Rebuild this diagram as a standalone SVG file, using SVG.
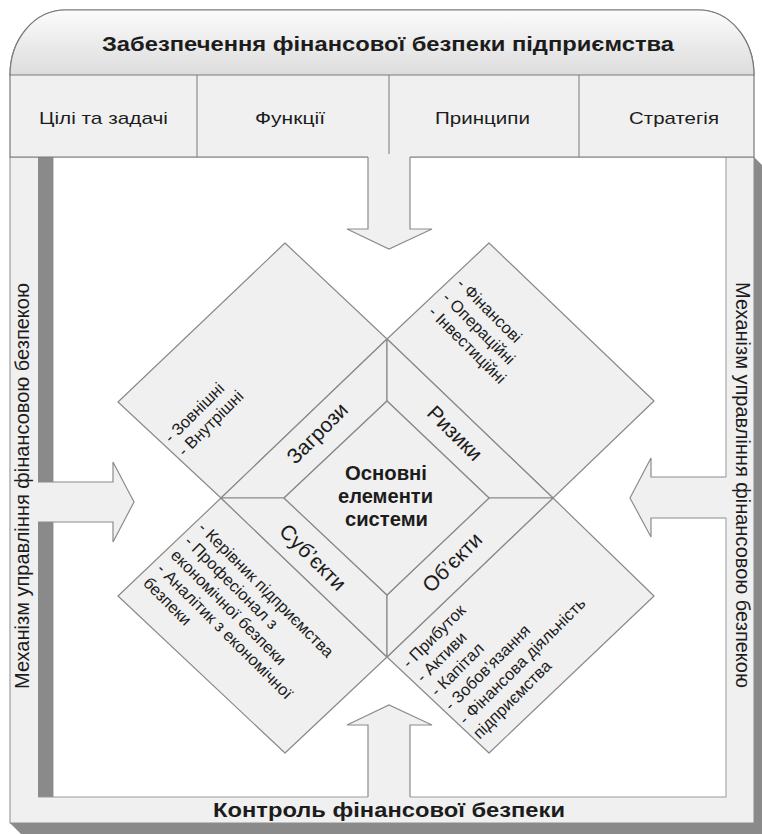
<svg xmlns="http://www.w3.org/2000/svg" width="762" height="834" viewBox="0 0 762 834">
<defs>
<linearGradient id="hg" x1="0" y1="0" x2="0" y2="1">
<stop offset="0" stop-color="#fcfcfc"/><stop offset="1" stop-color="#dcdcdc"/>
</linearGradient>
<style>
.t{font-family:"Liberation Sans",Arial,Helvetica,sans-serif;fill:#1c1c1c}
.b{font-weight:bold}
.sh{fill:#8a8a8a}
.fr{fill:#f0f0f0;stroke:#8c8c8c;stroke-width:1}
.ln{stroke:#8c8c8c;stroke-width:1.2;fill:none}
.tile{fill:#f0f0f0;stroke:#8a8a8a;stroke-width:1.2;stroke-linejoin:round}
.af{fill:#f0f0f0}
.ao{fill:none;stroke:#8c8c8c;stroke-width:1.2}
.l{font-size:16.5px}
.m{font-size:21px}
</style>
</defs>
<rect width="762" height="834" fill="#ffffff"/>

<g id="frame">
<polygon class="sh" points="754,157 762,165 762,834 21,834 10,823 754,823"/>
<rect class="fr" x="10" y="157" width="744" height="666"/>
<rect x="53" y="157" width="673" height="640" fill="#ffffff" stroke="#999999" stroke-width="1"/>
<rect class="sh" x="38" y="157" width="15" height="325"/>
<rect class="sh" x="38" y="522" width="15" height="275"/>
<line x1="38" y1="797" x2="53" y2="797" stroke="#999999" stroke-width="1"/>
</g>

<g id="header">
<path d="M10,157 V75 A55,65 0 0 1 65,10 H699 A55,65 0 0 1 754,75 V157 Z" fill="#f0f0f0" stroke="#7a7a7a" stroke-width="1.2"/>
<path d="M10,75 A55,65 0 0 1 65,10 H699 A55,65 0 0 1 754,75 Z" fill="url(#hg)" stroke="#7a7a7a" stroke-width="1.2"/>
<text class="t b" x="102" y="51" font-size="20" textLength="572" lengthAdjust="spacingAndGlyphs">Забезпечення фінансової безпеки підприємства</text>
</g>
<g id="cell-goals">
<text class="t" x="39" y="124" font-size="17" textLength="129" lengthAdjust="spacingAndGlyphs">Цілі та задачі</text>
</g>
<g id="cell-functions">
<line class="ln" x1="197" y1="75" x2="197" y2="157"/>
<text class="t" x="255" y="124" font-size="17" textLength="70" lengthAdjust="spacingAndGlyphs">Функції</text>
</g>
<g id="cell-principles">
<line class="ln" x1="389" y1="75" x2="389" y2="157"/>
<text class="t" x="435" y="124" font-size="17" textLength="95" lengthAdjust="spacingAndGlyphs">Принципи</text>
</g>
<g id="cell-strategy">
<line class="ln" x1="579" y1="75" x2="579" y2="157"/>
<text class="t" x="629" y="124" font-size="17" textLength="90" lengthAdjust="spacingAndGlyphs">Стратегія</text>
</g>

<g id="connectors">
<polygon class="af" points="368,154 410,154 410,229 432,229 389,249 347,229 368,229"/>
<path class="ao" d="M368,157 V229 H347 L389,249 L432,229 H410 V157"/>
<polygon class="af" points="368,800 368,725 347,725 389,705 432,725 410,725 410,800"/>
<path class="ao" d="M368,797 V725 H347 L389,705 L432,725 H410 V797"/>
<polygon class="af" points="37,482 113,482 113,462 134,502 113,542 113,522 37,522"/>
<path class="ao" d="M38,482 H113 V462 L134,502 L113,542 V522 H38"/>
<polygon class="af" points="729,477 651,477 651,458 630,498 651,537 651,518 729,518"/>
<path class="ao" d="M726,477 H651 V458 L630,498 L651,537 V518 H726"/>
</g>

<g id="threats-list">
<polygon class="tile" points="221,498 387,339 285,243 118,402"/>
<g transform="translate(118,402) rotate(-45)">
<text class="t l" x="8" y="67">- Зовнішні</text>
<text class="t l" x="8" y="86">- Внутрішні</text>
</g>
</g>
<g id="risks-list">
<polygon class="tile" points="387,339 489,243 654,401 553,498"/>
<g transform="translate(489,243) rotate(45)">
<text class="t l" x="6" y="53">- Фінансові</text>
<text class="t l" x="6" y="73">- Операційні</text>
<text class="t l" x="6" y="93">- Інвестиційні</text>
</g>
</g>
<g id="subjects-list">
<polygon class="tile" points="221,498 387,657 285,753 118,596"/>
<g transform="translate(221,498) rotate(45)">
<text class="t l" x="5" y="38.5">- Керівник підприємства</text>
<text class="t l" x="5" y="58">- Професіонал з</text>
<text class="t l" x="5" y="77.5">економічної безпеки</text>
<text class="t l" x="5" y="97">- Аналітик з економічної</text>
<text class="t l" x="5" y="116.5">безпеки</text>
</g>
</g>
<g id="objects-list">
<polygon class="tile" points="553,498 654,596 489,753 387,657"/>
<g transform="translate(387,657) rotate(-45)">
<text class="t l" x="7" y="24">- Прибуток</text>
<text class="t l" x="7" y="44">- Активи</text>
<text class="t l" x="7" y="64">- Капітал</text>
<text class="t l" x="7" y="84">- Зобов’язання</text>
<text class="t l" x="7" y="104">- Фінансова діяльність</text>
<text class="t l" x="7" y="124">підприємства</text>
</g>
</g>

<g id="threats">
<polygon class="tile" points="221,498 387,339 387,401 284,498"/>
<text class="t m" transform="translate(317,433) rotate(-45)" text-anchor="middle" dominant-baseline="central">Загрози</text>
</g>
<g id="risks">
<polygon class="tile" points="387,339 553,498 489,498 387,401"/>
<text class="t m" transform="translate(455,433) rotate(45)" text-anchor="middle" dominant-baseline="central">Ризики</text>
</g>
<g id="subjects">
<polygon class="tile" points="221,498 284,498 387,595 387,657"/>
<text class="t m" transform="translate(313,557) rotate(45)" text-anchor="middle" dominant-baseline="central">Суб’єкти</text>
</g>
<g id="objects">
<polygon class="tile" points="553,498 387,657 387,595 489,498"/>
<text class="t m" transform="translate(452,562) rotate(-45)" text-anchor="middle" dominant-baseline="central">Об’єкти</text>
</g>
<g id="core">
<polygon class="tile" points="387,401 489,498 387,595 284,498"/>
<text class="t b" x="345" y="480" font-size="20" textLength="82" lengthAdjust="spacingAndGlyphs">Основні</text>
<text class="t b" x="338" y="503" font-size="20" textLength="95" lengthAdjust="spacingAndGlyphs">елементи</text>
<text class="t b" x="345" y="526" font-size="20" textLength="83" lengthAdjust="spacingAndGlyphs">системи</text>
</g>

<g id="mechanism-left">
<text class="t" transform="translate(24,486) rotate(-90)" x="0" y="5" text-anchor="middle" font-size="20">Механізм управління фінансовою безпекою</text>
</g>
<g id="mechanism-right">
<text class="t" transform="translate(740,485) rotate(90)" x="0" y="4" text-anchor="middle" font-size="20">Механізм управління фінансовою безпекою</text>
</g>
<g id="control">
<text class="t b" x="213" y="817" font-size="20" textLength="352" lengthAdjust="spacingAndGlyphs">Контроль фінансової безпеки</text>
</g>
</svg>
